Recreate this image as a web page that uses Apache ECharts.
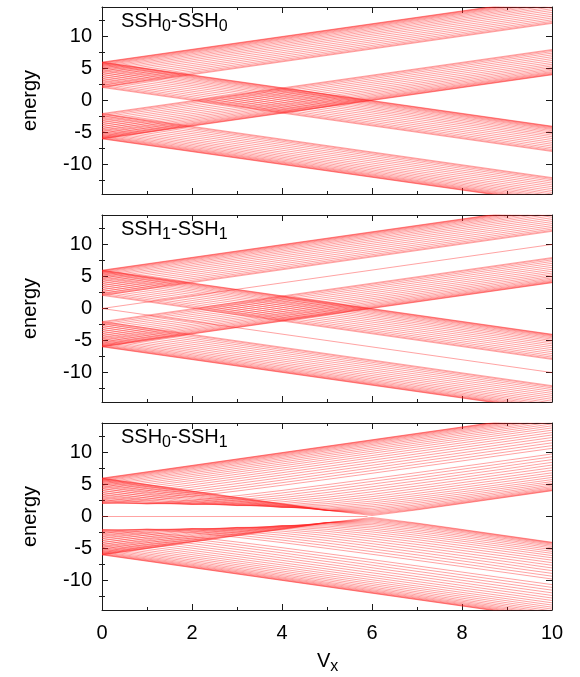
<!DOCTYPE html>
<html>
<head>
<meta charset="utf-8">
<script src="https://cdn.jsdelivr.net/npm/echarts@6/dist/echarts.min.js"></script>
<style>
  html, body { margin: 0; padding: 0; background: #fff; }
  #chart { width: 580px; height: 677px; }
</style>
</head>
<body>
<div id="chart"></div>
<script>
// Energy levels of two coupled SSH chains as a function of the interchain coupling Vx.

const vxRange = [0, 10];
const vxSamples = [0, 1, 2, 3, 4, 5, 6, 7, 8, 9, 10];
const yTickLabels = [-10, -5, 0, 5, 10];
const yMinorTicks = [-12.5, -7.5, -2.5, 2.5, 7.5, 12.5];
const panelTitles = [['SSH', '0', '-SSH', '0'], ['SSH', '1', '-SSH', '1'], ['SSH', '0', '-SSH', '1']];

// ---- SSH0-SSH0: straight levels (energy at Vx = 0, and at Vx = 10 for each branch)
const ssh00Upper = [5.99, 5.94, 5.87, 5.76, 5.63, 5.48, 5.29, 5.08, 4.85, 4.60, 4.34, 4.06, 3.76, 3.46, 3.17, 2.88, 2.60, 2.36, 2.17, 2.04];
const ssh00UpperRiseEnd = [15.99, 15.94, 15.87, 15.76, 15.63, 15.48, 15.29, 15.08, 14.85, 14.60, 14.34, 14.06, 13.76, 13.46, 13.17, 12.88, 12.60, 12.36, 12.17, 12.04];
const ssh00UpperFallEnd = [-4.01, -4.06, -4.13, -4.24, -4.37, -4.52, -4.71, -4.92, -5.15, -5.40, -5.66, -5.94, -6.24, -6.54, -6.83, -7.12, -7.40, -7.64, -7.83, -7.96];
const ssh00Lower = [-5.99, -5.94, -5.87, -5.76, -5.63, -5.48, -5.29, -5.08, -4.85, -4.60, -4.34, -4.06, -3.76, -3.46, -3.17, -2.88, -2.60, -2.36, -2.17, -2.04];
const ssh00LowerRiseEnd = [4.01, 4.06, 4.13, 4.24, 4.37, 4.52, 4.71, 4.92, 5.15, 5.40, 5.66, 5.94, 6.24, 6.54, 6.83, 7.12, 7.40, 7.64, 7.83, 7.96];
const ssh00LowerFallEnd = [-15.99, -15.94, -15.87, -15.76, -15.63, -15.48, -15.29, -15.08, -14.85, -14.60, -14.34, -14.06, -13.76, -13.46, -13.17, -12.88, -12.60, -12.36, -12.17, -12.04];

// ---- SSH1-SSH1: bulk levels plus the edge modes starting at zero
const ssh11Upper = [5.98, 5.93, 5.85, 5.74, 5.60, 5.42, 5.22, 4.99, 4.74, 4.47, 4.18, 3.88, 3.57, 3.26, 2.95, 2.66, 2.40, 2.19, 2.05];
const ssh11UpperRiseEnd = [15.98, 15.93, 15.85, 15.74, 15.60, 15.42, 15.22, 14.99, 14.74, 14.47, 14.18, 13.88, 13.57, 13.26, 12.95, 12.66, 12.40, 12.19, 12.05];
const ssh11UpperFallEnd = [-4.02, -4.07, -4.15, -4.26, -4.40, -4.58, -4.78, -5.01, -5.26, -5.53, -5.82, -6.12, -6.43, -6.74, -7.05, -7.34, -7.60, -7.81, -7.95];
const ssh11Lower = [-5.98, -5.93, -5.85, -5.74, -5.60, -5.42, -5.22, -4.99, -4.74, -4.47, -4.18, -3.88, -3.57, -3.26, -2.95, -2.66, -2.40, -2.19, -2.05];
const ssh11LowerRiseEnd = [4.02, 4.07, 4.15, 4.26, 4.40, 4.58, 4.78, 5.01, 5.26, 5.53, 5.82, 6.12, 6.43, 6.74, 7.05, 7.34, 7.60, 7.81, 7.95];
const ssh11LowerFallEnd = [-15.98, -15.93, -15.85, -15.74, -15.60, -15.42, -15.22, -14.99, -14.74, -14.47, -14.18, -13.88, -13.57, -13.26, -12.95, -12.66, -12.40, -12.19, -12.05];
const ssh11Edge = [0, 0];
const ssh11EdgeEnd = [10, -10];

// ---- SSH0-SSH1: curved levels, energies at vxSamples
const mixedUpperDip = [
  [5.99, 4.99, 3.99, 2.99, 1.99, 0.99, 0.15, 1.03, 2.02, 3.02, 4.02],
  [5.94, 4.94, 3.94, 2.95, 1.96, 0.98, 0.31, 1.11, 2.09, 3.08, 4.08],
  [5.87, 4.87, 3.88, 2.88, 1.90, 0.96, 0.47, 1.23, 2.20, 3.18, 4.17],
  [5.76, 4.77, 3.78, 2.80, 1.83, 0.94, 0.65, 1.40, 2.34, 3.32, 4.31],
  [5.63, 4.64, 3.66, 2.69, 1.75, 0.94, 0.84, 1.59, 2.52, 3.49, 4.48],
  [5.48, 4.49, 3.51, 2.56, 1.65, 0.96, 1.05, 1.81, 2.74, 3.70, 4.68],
  [5.29, 4.31, 3.35, 2.41, 1.56, 1.02, 1.28, 2.06, 2.98, 3.93, 4.91],
  [5.08, 4.11, 3.16, 2.26, 1.48, 1.13, 1.54, 2.33, 3.24, 4.20, 5.17],
  [4.85, 3.90, 2.97, 2.10, 1.43, 1.28, 1.81, 2.62, 3.54, 4.49, 5.45],
  [4.60, 3.66, 2.76, 1.95, 1.42, 1.49, 2.10, 2.94, 3.85, 4.80, 5.76],
  [4.34, 3.41, 2.55, 1.82, 1.47, 1.73, 2.41, 3.27, 4.18, 5.13, 6.10],
  [4.06, 3.16, 2.34, 1.73, 1.58, 2.01, 2.75, 3.61, 4.54, 5.49, 6.45],
  [3.76, 2.90, 2.15, 1.70, 1.76, 2.31, 3.10, 3.98, 4.91, 5.86, 6.82],
  [3.46, 2.65, 2.00, 1.73, 2.00, 2.65, 3.46, 4.36, 5.29, 6.24, 7.21],
  [3.17, 2.41, 1.90, 1.85, 2.28, 3.00, 3.85, 4.75, 5.69, 6.65, 7.61],
  [2.88, 2.21, 1.87, 2.03, 2.60, 3.37, 4.24, 5.16, 6.10, 7.06, 8.03],
  [2.60, 2.06, 1.92, 2.27, 2.94, 3.75, 4.64, 5.57, 6.52, 7.48, 8.45],
  [2.36, 1.98, 2.06, 2.56, 3.30, 4.15, 5.06, 5.99, 6.94, 7.91, 8.88],
  [2.17, 1.98, 2.27, 2.89, 3.68, 4.56, 5.48, 6.42, 7.38, 8.34, 9.32],
  [2.04, 2.07, 2.53, 3.24, 4.07, 4.97, 5.90, 6.85, 7.81, 8.78, 9.76]
];
const mixedUpperRise = [
  [5.99, 6.98, 7.98, 8.98, 9.98, 10.98, 11.98, 12.98, 13.98, 14.98, 15.98],
  [5.94, 6.94, 7.94, 8.94, 9.94, 10.94, 11.94, 12.94, 13.94, 14.94, 15.94],
  [5.87, 6.86, 7.86, 8.86, 9.86, 10.86, 11.86, 12.86, 13.86, 14.86, 15.86],
  [5.76, 6.76, 7.76, 8.75, 9.75, 10.75, 11.75, 12.75, 13.75, 14.74, 15.74],
  [5.63, 6.63, 7.62, 8.62, 9.61, 10.61, 11.61, 12.61, 13.60, 14.60, 15.60],
  [5.48, 6.47, 7.46, 8.45, 9.45, 10.44, 11.44, 12.44, 13.43, 14.43, 15.43],
  [5.29, 6.28, 7.27, 8.26, 9.25, 10.25, 11.24, 12.24, 13.23, 14.23, 15.23],
  [5.08, 6.06, 7.05, 8.04, 9.03, 10.02, 11.02, 12.01, 13.01, 14.00, 15.00],
  [4.85, 5.83, 6.81, 7.79, 8.78, 9.77, 10.76, 11.76, 12.75, 13.75, 14.74],
  [4.60, 5.57, 6.54, 7.52, 8.51, 9.50, 10.49, 11.48, 12.47, 13.47, 14.46],
  [4.34, 5.29, 6.26, 7.23, 8.21, 9.20, 10.19, 11.18, 12.17, 13.16, 14.16],
  [4.06, 4.99, 5.95, 6.92, 7.90, 8.88, 9.87, 10.86, 11.85, 12.84, 13.83],
  [3.76, 4.68, 5.63, 6.59, 7.56, 8.54, 9.52, 10.51, 11.50, 12.49, 13.48],
  [3.46, 4.36, 5.29, 6.24, 7.21, 8.19, 9.17, 10.15, 11.14, 12.12, 13.11],
  [3.17, 4.03, 4.94, 5.89, 6.84, 7.81, 8.79, 9.77, 10.76, 11.74, 12.73],
  [2.88, 3.70, 4.59, 5.52, 6.47, 7.43, 8.40, 9.38, 10.36, 11.35, 12.33],
  [2.60, 3.36, 4.23, 5.14, 6.08, 7.03, 8.00, 8.97, 9.95, 10.94, 11.92],
  [2.36, 3.04, 3.86, 4.75, 5.68, 6.63, 7.59, 8.56, 9.54, 10.52, 11.50],
  [2.17, 2.74, 3.51, 4.37, 5.28, 6.22, 7.17, 8.14, 9.11, 10.09, 11.07],
  [2.04, 2.46, 3.16, 3.98, 4.87, 5.80, 6.75, 7.71, 8.68, 9.66, 10.64]
];
const mixedLowerDip = [
  [-5.99, -4.99, -3.99, -2.99, -1.99, -0.99, -0.15, -1.03, -2.02, -3.02, -4.02],
  [-5.94, -4.94, -3.94, -2.95, -1.96, -0.98, -0.31, -1.11, -2.09, -3.08, -4.08],
  [-5.87, -4.87, -3.88, -2.88, -1.90, -0.96, -0.47, -1.23, -2.20, -3.18, -4.17],
  [-5.76, -4.77, -3.78, -2.80, -1.83, -0.94, -0.65, -1.40, -2.34, -3.32, -4.31],
  [-5.63, -4.64, -3.66, -2.69, -1.75, -0.94, -0.84, -1.59, -2.52, -3.49, -4.48],
  [-5.48, -4.49, -3.51, -2.56, -1.65, -0.96, -1.05, -1.81, -2.74, -3.70, -4.68],
  [-5.29, -4.31, -3.35, -2.41, -1.56, -1.02, -1.28, -2.06, -2.98, -3.93, -4.91],
  [-5.08, -4.11, -3.16, -2.26, -1.48, -1.13, -1.54, -2.33, -3.24, -4.20, -5.17],
  [-4.85, -3.90, -2.97, -2.10, -1.43, -1.28, -1.81, -2.62, -3.54, -4.49, -5.45],
  [-4.60, -3.66, -2.76, -1.95, -1.42, -1.49, -2.10, -2.94, -3.85, -4.80, -5.76],
  [-4.34, -3.41, -2.55, -1.82, -1.47, -1.73, -2.41, -3.27, -4.18, -5.13, -6.10],
  [-4.06, -3.16, -2.34, -1.73, -1.58, -2.01, -2.75, -3.61, -4.54, -5.49, -6.45],
  [-3.76, -2.90, -2.15, -1.70, -1.76, -2.31, -3.10, -3.98, -4.91, -5.86, -6.82],
  [-3.46, -2.65, -2.00, -1.73, -2.00, -2.65, -3.46, -4.36, -5.29, -6.24, -7.21],
  [-3.17, -2.41, -1.90, -1.85, -2.28, -3.00, -3.85, -4.75, -5.69, -6.65, -7.61],
  [-2.88, -2.21, -1.87, -2.03, -2.60, -3.37, -4.24, -5.16, -6.10, -7.06, -8.03],
  [-2.60, -2.06, -1.92, -2.27, -2.94, -3.75, -4.64, -5.57, -6.52, -7.48, -8.45],
  [-2.36, -1.98, -2.06, -2.56, -3.30, -4.15, -5.06, -5.99, -6.94, -7.91, -8.88],
  [-2.17, -1.98, -2.27, -2.89, -3.68, -4.56, -5.48, -6.42, -7.38, -8.34, -9.32],
  [-2.04, -2.07, -2.53, -3.24, -4.07, -4.97, -5.90, -6.85, -7.81, -8.78, -9.76]
];
const mixedLowerFall = [
  [-5.99, -6.98, -7.98, -8.98, -9.98, -10.98, -11.98, -12.98, -13.98, -14.98, -15.98],
  [-5.94, -6.94, -7.94, -8.94, -9.94, -10.94, -11.94, -12.94, -13.94, -14.94, -15.94],
  [-5.87, -6.86, -7.86, -8.86, -9.86, -10.86, -11.86, -12.86, -13.86, -14.86, -15.86],
  [-5.76, -6.76, -7.76, -8.75, -9.75, -10.75, -11.75, -12.75, -13.75, -14.74, -15.74],
  [-5.63, -6.63, -7.62, -8.62, -9.61, -10.61, -11.61, -12.61, -13.60, -14.60, -15.60],
  [-5.48, -6.47, -7.46, -8.45, -9.45, -10.44, -11.44, -12.44, -13.43, -14.43, -15.43],
  [-5.29, -6.28, -7.27, -8.26, -9.25, -10.25, -11.24, -12.24, -13.23, -14.23, -15.23],
  [-5.08, -6.06, -7.05, -8.04, -9.03, -10.02, -11.02, -12.01, -13.01, -14.00, -15.00],
  [-4.85, -5.83, -6.81, -7.79, -8.78, -9.77, -10.76, -11.76, -12.75, -13.75, -14.74],
  [-4.60, -5.57, -6.54, -7.52, -8.51, -9.50, -10.49, -11.48, -12.47, -13.47, -14.46],
  [-4.34, -5.29, -6.26, -7.23, -8.21, -9.20, -10.19, -11.18, -12.17, -13.16, -14.16],
  [-4.06, -4.99, -5.95, -6.92, -7.90, -8.88, -9.87, -10.86, -11.85, -12.84, -13.83],
  [-3.76, -4.68, -5.63, -6.59, -7.56, -8.54, -9.52, -10.51, -11.50, -12.49, -13.48],
  [-3.46, -4.36, -5.29, -6.24, -7.21, -8.19, -9.17, -10.15, -11.14, -12.12, -13.11],
  [-3.17, -4.03, -4.94, -5.89, -6.84, -7.81, -8.79, -9.77, -10.76, -11.74, -12.73],
  [-2.88, -3.70, -4.59, -5.52, -6.47, -7.43, -8.40, -9.38, -10.36, -11.35, -12.33],
  [-2.60, -3.36, -4.23, -5.14, -6.08, -7.03, -8.00, -8.97, -9.95, -10.94, -11.92],
  [-2.36, -3.04, -3.86, -4.75, -5.68, -6.63, -7.59, -8.56, -9.54, -10.52, -11.50],
  [-2.17, -2.74, -3.51, -4.37, -5.28, -6.22, -7.17, -8.14, -9.11, -10.09, -11.07],
  [-2.04, -2.46, -3.16, -3.98, -4.87, -5.80, -6.75, -7.71, -8.68, -9.66, -10.64]
];
// zero-energy edge mode in SSH0-SSH1
const mixedZeroVx = [0, 5.9];
const mixedZeroE = [0, 0];

const FONT = '"Liberation Sans", Arial, Helvetica, sans-serif';
const RED = 'rgba(255, 30, 30, 0.75)';
const GRID_LEFT = 102, GRID_WIDTH = 450, GRID_HEIGHT = 187;
const gridTops = [7, 215, 423];
const Y_MIN = -14.6, Y_MAX = 14.6;

const grids = gridTops.map(t => ({ left: GRID_LEFT, top: t, width: GRID_WIDTH, height: GRID_HEIGHT, containLabel: false }));

const xAxes = [];
const yAxes = [];
gridTops.forEach((t, gi) => {
  const frame = { show: true, onZero: false, lineStyle: { color: '#1a1a1a', width: 1 } };
  const xBase = {
    gridIndex: gi, type: 'value', min: 0, max: 10, interval: 2,
    splitLine: { show: false }, axisLine: frame,
    axisTick: { show: true, inside: true, length: 6, lineStyle: { color: '#1a1a1a' } },
    minorTick: { show: true, splitNumber: 2, length: 3, lineStyle: { color: '#1a1a1a' } },
    minorSplitLine: { show: false }
  };
  xAxes.push(Object.assign({}, xBase, {
    position: 'bottom',
    axisLabel: { show: gi === 2, margin: 13, fontSize: 20, color: '#000', fontFamily: FONT }
  }));
  xAxes.push(Object.assign({}, xBase, { position: 'top', axisLabel: { show: false } }));

  ['left', 'right'].forEach(side => {
    yAxes.push({
      gridIndex: gi, type: 'value', min: Y_MIN, max: Y_MAX, position: side,
      splitLine: { show: false }, axisLine: frame,
      axisTick: { show: true, inside: true, length: 6, customValues: yTickLabels, lineStyle: { color: '#1a1a1a' } },
      axisLabel: side === 'left'
        ? { show: true, customValues: yTickLabels, margin: 10, fontSize: 20, color: '#000', fontFamily: FONT }
        : { show: false }
    });
    yAxes.push({
      gridIndex: gi, type: 'value', min: Y_MIN, max: Y_MAX, position: side,
      splitLine: { show: false }, axisLine: { show: false },
      axisTick: { show: true, inside: true, length: 3, customValues: yMinorTicks, lineStyle: { color: '#1a1a1a' } },
      axisLabel: { show: false }
    });
  });
});

const series = [];
function addLine(gi, data) {
  series.push({
    type: 'line', xAxisIndex: gi * 2, yAxisIndex: gi * 4, data: data,
    showSymbol: false, symbol: 'none', silent: true, clip: true,
    lineStyle: { color: RED, width: 0.55 }
  });
}
function addStraight(gi, start, end) {
  start.forEach((s, i) => addLine(gi, [[vxRange[0], s], [vxRange[1], end[i]]]));
}
function addCurves(gi, list) {
  list.forEach(row => addLine(gi, vxSamples.map((v, k) => [v, row[k]])));
}
addStraight(0, ssh00Upper, ssh00UpperRiseEnd);
addStraight(0, ssh00Upper, ssh00UpperFallEnd);
addStraight(0, ssh00Lower, ssh00LowerRiseEnd);
addStraight(0, ssh00Lower, ssh00LowerFallEnd);
addStraight(1, ssh11Upper, ssh11UpperRiseEnd);
addStraight(1, ssh11Upper, ssh11UpperFallEnd);
addStraight(1, ssh11Lower, ssh11LowerRiseEnd);
addStraight(1, ssh11Lower, ssh11LowerFallEnd);
addStraight(1, ssh11Edge, ssh11EdgeEnd);
addCurves(2, mixedUpperDip);
addCurves(2, mixedUpperRise);
addCurves(2, mixedLowerDip);
addCurves(2, mixedLowerFall);
addLine(2, mixedZeroVx.map((v, k) => [v, mixedZeroE[k]]));

// panel titles and axis names as text with subscripts
const rich = {
  m: { fontSize: 20, verticalAlign: 'top', fontFamily: FONT, fill: '#000' },
  s: { fontSize: 16, verticalAlign: 'top', padding: [8, 0, 0, 0], fontFamily: FONT, fill: '#000' }
};
const graphics = [];
gridTops.forEach((t, gi) => {
  const p = panelTitles[gi];
  graphics.push({
    type: 'text', left: 121, top: t + 4, silent: true,
    style: { text: '{m|' + p[0] + '}{s|' + p[1] + '}{m|' + p[2] + '}{s|' + p[3] + '}', rich: rich }
  });
  graphics.push({
    type: 'text', x: 30, y: t + GRID_HEIGHT / 2, rotation: Math.PI / 2, silent: true,
    style: { text: 'energy', fontSize: 20, fontFamily: FONT, fill: '#000', align: 'center', verticalAlign: 'middle' }
  });
});
graphics.push({
  type: 'text', left: 317, top: 651, silent: true,
  style: { text: '{m|V}{s|x}', rich: rich }
});

const chart = echarts.init(document.getElementById('chart'), null, { renderer: 'canvas' });
chart.setOption({
  animation: false,
  backgroundColor: '#fff',
  grid: grids,
  xAxis: xAxes,
  yAxis: yAxes,
  series: series,
  graphic: graphics
});
</script>
</body>
</html>
